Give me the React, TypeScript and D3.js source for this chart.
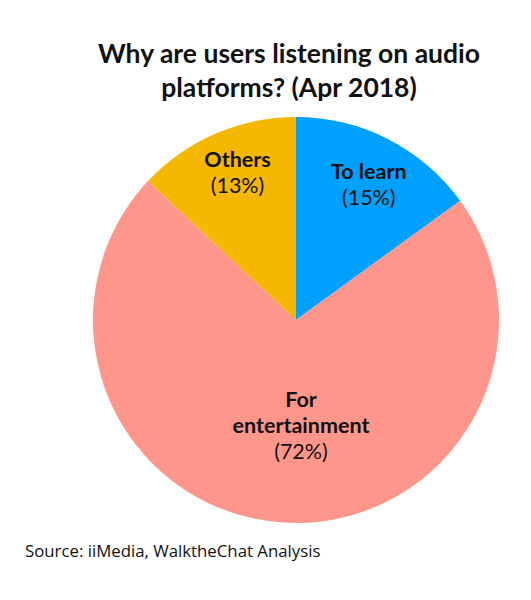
import React from "react";
import * as d3 from "d3";

const categories = ["To learn", "For entertainment", "Others"];
const values = [15, 72, 13];
const labelLines = [["To learn"], ["For", "entertainment"], ["Others"]];
const colors = ["#00A1FE", "#FE968C", "#F6B700"];
const titleLines = ["Why are users listening on audio", "platforms? (Apr 2018)"];
const source = "Source: iiMedia, WalktheChat Analysis";

const W = 531;
const H = 600;
const cx = 296;
const cy = 320;
const R = 203;

// label placement: radius fraction and angle tweak (radians) per slice
const labelRadius = [0.76, 0.52, 0.78];
const labelAngleShift = [0.02, -0.11, 0.03];

export default function App() {
  const pie = d3.pie<number>().sort(null).value((d) => d);
  const arcs = pie(values);
  const arc = d3.arc<d3.PieArcDatum<number>>().innerRadius(0).outerRadius(R);

  return (
    <svg
      width={W}
      height={H}
      style={{ position: "absolute", left: 0, top: 0, background: "#fff" }}
    >
      <g fontFamily="Lato" fontWeight="bold" fontSize={26.5} fill="#111" textAnchor="middle">
        {titleLines.map((t, i) => (
          <text key={i} x={289} y={63 + i * 34}>
            {t}
          </text>
        ))}
      </g>
      <g transform={`translate(${cx},${cy})`}>
        {arcs.map((a, i) => (
          <path key={categories[i]} d={arc(a) || ""} fill={colors[i]} />
        ))}
        {arcs.map((a, i) => {
          const mid = (a.startAngle + a.endAngle) / 2 + labelAngleShift[i];
          const r = R * labelRadius[i];
          const x = Math.sin(mid) * r;
          const y = -Math.cos(mid) * r;
          const lines = labelLines[i];
          const n = lines.length + 1;
          const lh = 26;
          const y0 = y - ((n - 1) * lh) / 2;
          return (
            <g key={"l" + i} fontFamily="Lato" fontSize={21.5} fill="#111" textAnchor="middle">
              {lines.map((ln, j) => (
                <text key={j} x={x} y={y0 + j * lh} dy="0.35em" fontWeight="bold">
                  {ln}
                </text>
              ))}
              <text x={x} y={y0 + lines.length * lh} dy="0.35em">
                {`(${values[i]}%)`}
              </text>
            </g>
          );
        })}
      </g>
      <text x={25} y={557} fontFamily="Open Sans" fontSize={16.8} fill="#111">
        {source}
      </text>
    </svg>
  );
}
